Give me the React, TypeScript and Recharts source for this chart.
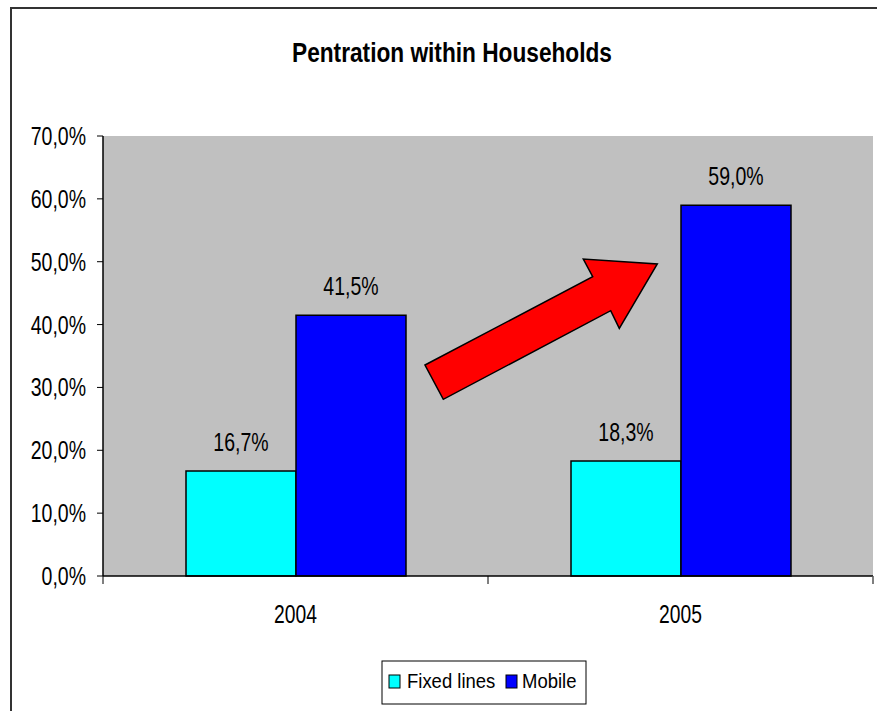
import React from 'react';
import { BarChart, Bar, XAxis, YAxis, CartesianGrid, LabelList } from 'recharts';

const categories = ['2004', '2005'];
const fixedLines = [16.7, 18.3];
const mobile = [41.5, 59.0];
const yTicks = [0, 10, 20, 30, 40, 50, 60, 70];
const seriesNames = ['Fixed lines', 'Mobile'];
const seriesColors = ['#00FFFF', '#0000FF'];
const title = 'Pentration within Households';

const data = categories.map((c, i) => ({ year: c, fixed: fixedLines[i], mobile: mobile[i] }));

const FONT = "'Liberation Sans', Arial, Helvetica, sans-serif";
const fmt = (v: number) => v.toFixed(1).replace('.', ',') + '%';

const YTick = (props: any) => {
  const { x, y, payload } = props;
  return (
    <g transform={`translate(${x},${y}) scale(0.78,1)`}>
      <text x={0} y={0} dy={9} textAnchor="end" fontSize={25} fontFamily={FONT} fill="#000">
        {fmt(payload.value)}
      </text>
    </g>
  );
};

const XTick = (props: any) => {
  const { x, y, payload, index } = props;
  const half = payload && payload.offset ? payload.offset : 192.5;
  const isLast = index === categories.length - 1;
  return (
    <g>
      <line x1={x - half} y1={y} x2={x - half} y2={y + 8} stroke="#000" strokeWidth={1} />
      {isLast && <line x1={x + half} y1={y} x2={x + half} y2={y + 8} stroke="#555" strokeWidth={1.5} />}
      <g transform={`translate(${x},${y + 47}) scale(0.77,1)`}>
        <text x={0} y={0} textAnchor="middle" fontSize={25} fontFamily={FONT} fill="#000">
          {payload.value}
        </text>
      </g>
    </g>
  );
};

const BarLabel = (props: any) => {
  const { x, y, width, value } = props;
  return (
    <g transform={`translate(${x + width / 2},${y - 20}) scale(0.78,1)`}>
      <text x={0} y={0} textAnchor="middle" fontSize={25} fontFamily={FONT} fill="#000">
        {fmt(value)}
      </text>
    </g>
  );
};

export default function App() {
  return (
    <div style={{ position: 'absolute', left: 0, top: 0, width: 877, height: 711, background: '#fff', overflow: 'hidden' }}>
      <div style={{ position: 'absolute', left: 10, top: 7, width: 950, height: 800, border: '2px solid #333', boxSizing: 'border-box' }} />
      <div style={{ position: 'absolute', left: 0, top: 0 }}>
        <BarChart
          width={877}
          height={711}
          data={data}
          margin={{ top: 136, right: 4, left: 13, bottom: 75 }}
          barSize={110}
          barGap={0}
        >
          <CartesianGrid horizontal={false} vertical={false} fill="#C0C0C0" fillOpacity={1} stroke="none" />
          <XAxis
            dataKey="year"
            height={60}
            tickLine={false}
            tickSize={0}
            tickMargin={0}
            axisLine={{ stroke: '#000', strokeWidth: 1.5 }}
            tick={<XTick />}
            interval={0}
          />
          <XAxis xAxisId="top" dataKey="year" orientation="top" height={0} tick={false} tickLine={false} axisLine={{ stroke: '#808080', strokeWidth: 1.5 }} />
          <YAxis
            width={90}
            domain={[0, 70]}
            ticks={yTicks}
            interval={0}
            tickSize={6}
            tickMargin={11}
            tickLine={{ stroke: '#000' }}
            axisLine={{ stroke: '#000', strokeWidth: 1.5 }}
            tick={<YTick />}
          />
          <YAxis yAxisId="right" orientation="right" width={0} domain={[0, 70]} tick={false} tickLine={false} axisLine={{ stroke: '#808080', strokeWidth: 1.5 }} />
          <Bar dataKey="fixed" name={seriesNames[0]} fill={seriesColors[0]} stroke="#000" strokeWidth={1.5} isAnimationActive={false}>
            <LabelList dataKey="fixed" content={<BarLabel />} />
          </Bar>
          <Bar dataKey="mobile" name={seriesNames[1]} fill={seriesColors[1]} stroke="#000" strokeWidth={1.5} isAnimationActive={false}>
            <LabelList dataKey="mobile" content={<BarLabel />} />
          </Bar>
        </BarChart>
      </div>
      <svg width={877} height={711} style={{ position: 'absolute', left: 0, top: 0, pointerEvents: 'none' }}>
        <g transform="translate(452,62) scale(0.81,1)">
          <text x={0} y={0} textAnchor="middle" fontSize={28} fontWeight="bold" fontFamily={FONT} fill="#000">
            {title}
          </text>
        </g>
        <polygon
          points="425,365 592.7,276.7 583.3,259 657.3,264 619.3,328.3 610.7,310.7 443.3,399.3"
          fill="#FF0000"
          stroke="#000"
          strokeWidth={1.5}
          strokeLinejoin="miter"
        />
        <rect x={382} y={661} width={204} height={43} fill="#fff" stroke="#000" strokeWidth={1} />
        <rect x={389} y={675} width={11} height={13} fill={seriesColors[0]} stroke="#000" strokeWidth={1} />
        <g transform="translate(407,688) scale(0.88,1)">
          <text x={0} y={0} fontSize={21} fontFamily={FONT} fill="#000">{seriesNames[0]}</text>
        </g>
        <rect x={506} y={675} width={11} height={13} fill={seriesColors[1]} stroke="#000" strokeWidth={1} />
        <g transform="translate(522,688) scale(0.88,1)">
          <text x={0} y={0} fontSize={21} fontFamily={FONT} fill="#000">{seriesNames[1]}</text>
        </g>
      </svg>
    </div>
  );
}
